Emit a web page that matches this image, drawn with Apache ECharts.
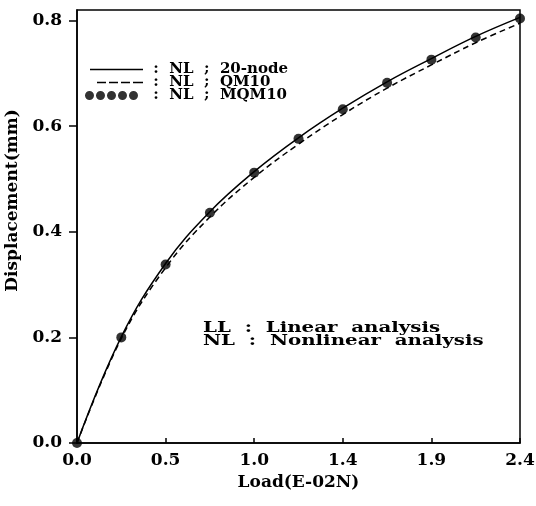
<!DOCTYPE html>
<html>
<head>
<meta charset="utf-8">
<script src="https://cdn.jsdelivr.net/npm/echarts@6/dist/echarts.min.js"></script>
<style>
  html, body { margin: 0; padding: 0; background: #fff; }
  #main { width: 536px; height: 506px; }
</style>
</head>
<body>
<div id="main"></div>
<script>
// load steps (E-02N)
var loads = [0, 0.24, 0.48, 0.72, 0.96, 1.2, 1.44, 1.68, 1.92, 2.16, 2.4];
// displacement (mm)
var node20 = [0, 0.201, 0.340, 0.438, 0.514, 0.578, 0.634, 0.684, 0.728, 0.770, 0.806];
var qm10 = [0, 0.198, 0.332, 0.428, 0.503, 0.566, 0.622, 0.672, 0.716, 0.758, 0.795];
var mqm10 = [0, 0.200, 0.338, 0.436, 0.512, 0.576, 0.632, 0.682, 0.726, 0.768, 0.804];
var yTicks = [0, 0.2, 0.4, 0.6, 0.8];
var legendNames = [' :  NL  ;  20-node', ' :  NL  ;  QM10', ' :  NL  ;  MQM10'];

function pairs(xs, ys) {
    return xs.map(function (x, i) { return [x, ys[i]]; });
}

var serifFont = 'DejaVu Serif';
// legend icons, 58x10 boxes (tiny corner specks keep the box size)
var box = 'M0,0h0.01v0.01h-0.01zM57.99,9.99h0.01v0.01h-0.01z';
var solidIcon = 'path://' + box + 'M5,4.3H58V5.7H5z';
var dashIcon = 'path://' + box + 'M12,4.3h9v1.4h-9zM24,4.3h9v1.4h-9zM36,4.3h9v1.4h-9zM48,4.3h10v1.4h-10z';
var dotsIcon = 'path://' + box +
    'M0,5a4.5,4.5 0 1,0 9,0a4.5,4.5 0 1,0 -9,0z' +
    'M11,5a4.5,4.5 0 1,0 9,0a4.5,4.5 0 1,0 -9,0z' +
    'M22,5a4.5,4.5 0 1,0 9,0a4.5,4.5 0 1,0 -9,0z' +
    'M33,5a4.5,4.5 0 1,0 9,0a4.5,4.5 0 1,0 -9,0z' +
    'M44,5a4.5,4.5 0 1,0 9,0a4.5,4.5 0 1,0 -9,0z';

var myChart = echarts.init(document.getElementById('main'));
var option = {
    animation: false,
    backgroundColor: '#fff',
    grid: {
        left: 77,
        right: 16,
        top: 10,
        bottom: 63,
        outerBoundsMode: 'none',
        show: true,
        borderColor: '#000',
        borderWidth: 1.5
    },
    legend: {
        left: 80,
        top: 57,
        orient: 'vertical',
        itemWidth: 58,
        itemHeight: 10,
        itemGap: -2,
        textStyle: {
            fontFamily: serifFont,
            fontWeight: 'bold',
            fontSize: 15,
            color: '#000'
        },
        data: [
            { name: legendNames[0], icon: solidIcon },
            { name: legendNames[1], icon: dashIcon },
            { name: legendNames[2], icon: dotsIcon }
        ]
    },
    xAxis: {
        type: 'value',
        min: 0,
        max: 2.4,
        interval: 0.48,
        name: 'Load(E-02N)',
        nameLocation: 'middle',
        nameGap: 31,
        nameTextStyle: { fontFamily: serifFont, fontWeight: 'bold', fontSize: 17, color: '#000' },
        axisLine: { lineStyle: { color: '#000', width: 1.5 } },
        axisTick: { inside: true, length: 5, lineStyle: { color: '#000', width: 1.5 } },
        axisLabel: {
            margin: 9,
            fontFamily: serifFont,
            fontWeight: 'bold',
            fontSize: 17,
            color: '#000',
            formatter: function (v) { return v.toFixed(1); }
        },
        splitLine: { show: false }
    },
    yAxis: {
        type: 'value',
        min: 0,
        max: 0.82,
        name: 'Displacement(mm)',
        nameLocation: 'middle',
        nameGap: 51,
        nameTextStyle: {
            fontFamily: serifFont, fontWeight: 'bold', fontSize: 17, color: '#000',
            padding: [0, 0, 0, 52]
        },
        axisLine: { lineStyle: { color: '#000', width: 1.5 } },
        axisTick: { length: 8, customValues: yTicks, lineStyle: { color: '#000', width: 1.5 } },
        axisLabel: {
            margin: 15,
            customValues: yTicks,
            fontFamily: serifFont,
            fontWeight: 'bold',
            fontSize: 17,
            color: '#000',
            formatter: function (v) { return v.toFixed(1); }
        },
        splitLine: { show: false }
    },
    graphic: [{
        type: 'text',
        x: 203,
        y: 322,
        scaleX: 1.32,
        style: {
            text: 'LL  :  Linear  analysis\nNL  :  Nonlinear  analysis',
            font: 'bold 15px "DejaVu Serif"',
            lineHeight: 13,
            fill: '#000'
        }
    }],
    series: [
        {
            name: legendNames[0],
            type: 'line',
            smooth: 0.4,
            symbol: 'none',
            color: '#000',
            lineStyle: { color: '#000', width: 1.5 },
            data: pairs(loads, node20)
        },
        {
            name: legendNames[1],
            type: 'line',
            smooth: 0.4,
            symbol: 'none',
            color: '#000',
            lineStyle: { color: '#000', width: 1.5, type: [6, 4] },
            data: pairs(loads, qm10)
        },
        {
            name: legendNames[2],
            type: 'scatter',
            symbol: 'circle',
            symbolSize: 10,
            color: '#000',
            itemStyle: { color: '#000' },
            data: pairs(loads, mqm10)
        }
    ]
};
myChart.setOption(option);
</script>
</body>
</html>
